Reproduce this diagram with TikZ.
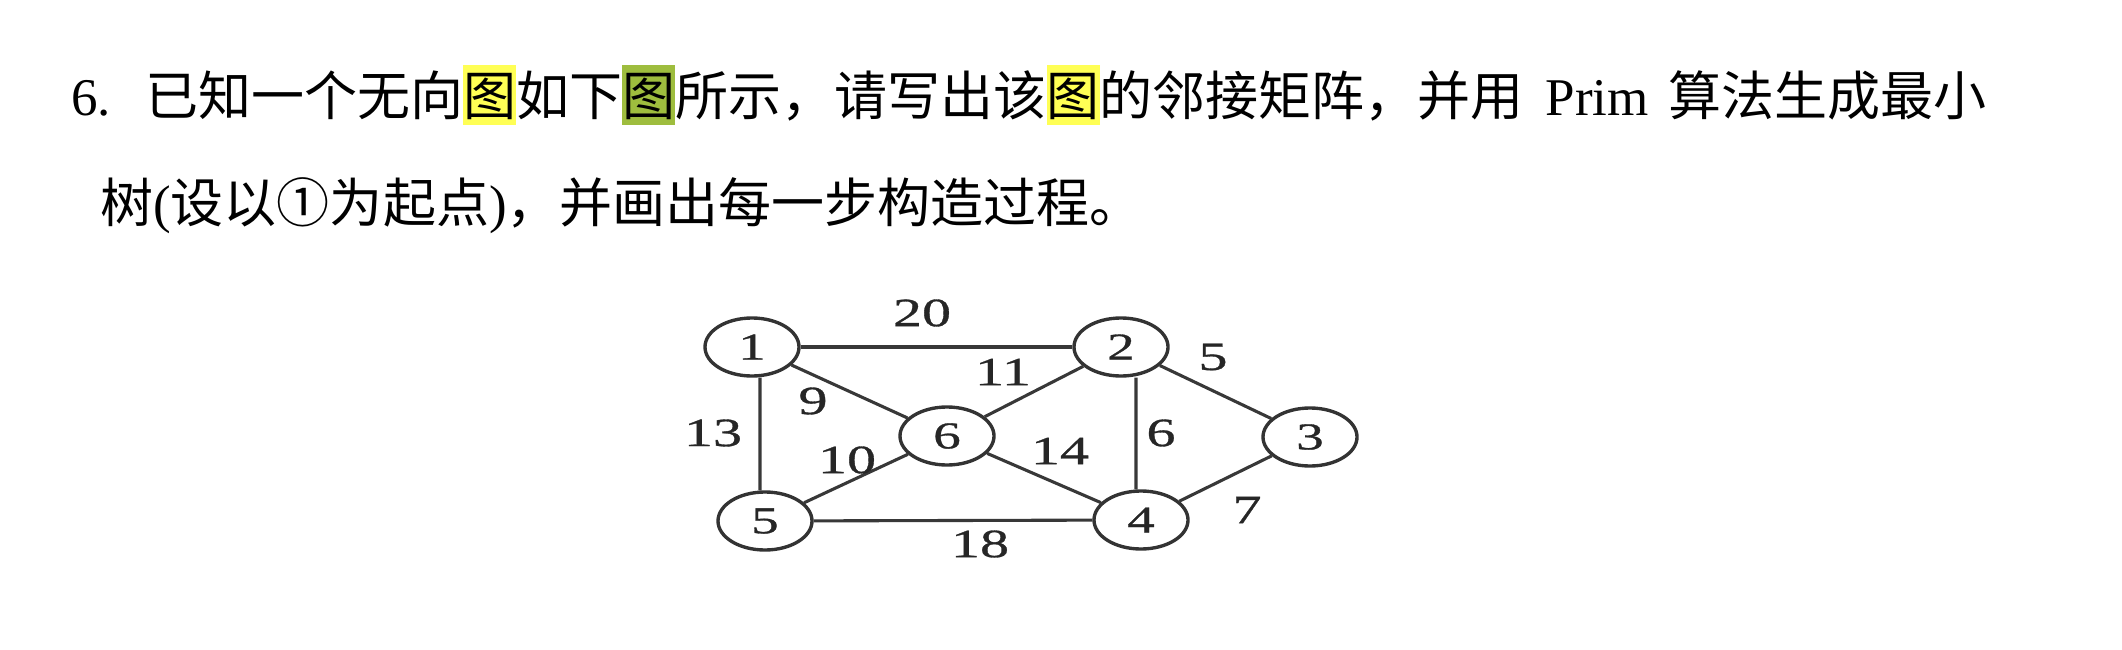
\documentclass[tikz,border=0pt]{standalone}
\usepackage{fontspec}
\setmainfont{Noto Sans CJK SC}
\newfontfamily\latin{Liberation Serif}
\newfontfamily\widedigits[FakeStretch=1.45,FakeBold=0.8]{Liberation Serif}
\usetikzlibrary{shapes.geometric}

\definecolor{hlyellow}{HTML}{FFFF55}
\definecolor{hlgreen}{HTML}{9EBD3E}

% highlighted character, box a bit taller than the glyph
\newcommand\hlbox[2]{{\setlength{\fboxsep}{0pt}\colorbox{#1}{\rule[-0.19em]{0pt}{1.13em}#2}}}

\begin{document}
\begin{tikzpicture}[x=0.025cm, y=-0.025cm,
					vertex/.style={ellipse,
					line width=2.4pt,
					draw=black!80,
					inner sep=0pt,
 					minimum width=2.35cm,
					minimum height=1.45cm,
					text=black!85,
					font=\widedigits\fontsize{27}{28}\selectfont},
					weight/.style={text=black!85,
					font=\widedigits\fontsize{28.5}{29}\selectfont},
					link/.style={line width=2.2pt, draw=black!78},
					textline/.style={anchor=base west, inner sep=0pt,
					font=\fontsize{37.7}{40}\selectfont}
					]

\useasboundingbox (0,0) rectangle (2122,650);

%question text
\node[textline] (num) at (71,115) {\latin 6.};
\node[textline] (line1) at (145,115) {已知一个无向\hlbox{hlyellow}{图}如下\hlbox{hlgreen}{图}所示，请写出该\hlbox{hlyellow}{图}的邻接矩阵，并用\hspace{0.55cm}{\latin Prim}\hspace{0.5cm}算法生成最小};
\node[textline] (line2) at (100,222) {树{\latin (}设以①为起点{\latin )}，并画出每一步构造过程。};

%graph nodes
\node[vertex] (v1) at (752,347) {1};
\node[vertex] (v2) at (1121,347) {2};
\node[vertex] (v3) at (1310,437) {3};
\node[vertex] (v4) at (1141,520) {4};
\node[vertex] (v5) at (765,521) {5};
\node[vertex] (v6) at (947,436) {6};

% Edges
\path[link] (v1) edge (v2);
\path[link] (v1) edge (v6);
\path[link] ([xshift=0.2cm]v1.south) edge ([xshift=-0.125cm]v5.north);
\path[link] (v2) edge (v6);
\path[link] (v2) edge (v3);
\path[link] ([xshift=0.375cm]v2.south) edge ([xshift=-0.125cm]v4.north);
\path[link] (v6) edge (v5);
\path[link] (v6) edge (v4);
\path[link] (v5) edge (v4);
\path[link] (v3) edge (v4);

% weights
\node[weight] (w12) at (922,313) {20};
\node[weight] (w26) at (1003,372) {11};
\node[weight] (w23) at (1213,357) {5};
\node[weight] (w16) at (813,401) {9};
\node[weight] (w15) at (713,433) {13};
\node[weight] (w24) at (1161,433) {6};
\node[weight] (w56) at (847,460) {10};
\node[weight] (w64) at (1060,451) {14};
\node[weight] (w34) at (1247,510) {7};
\node[weight] (w54) at (980,544) {18};

\end{tikzpicture}
\end{document}
